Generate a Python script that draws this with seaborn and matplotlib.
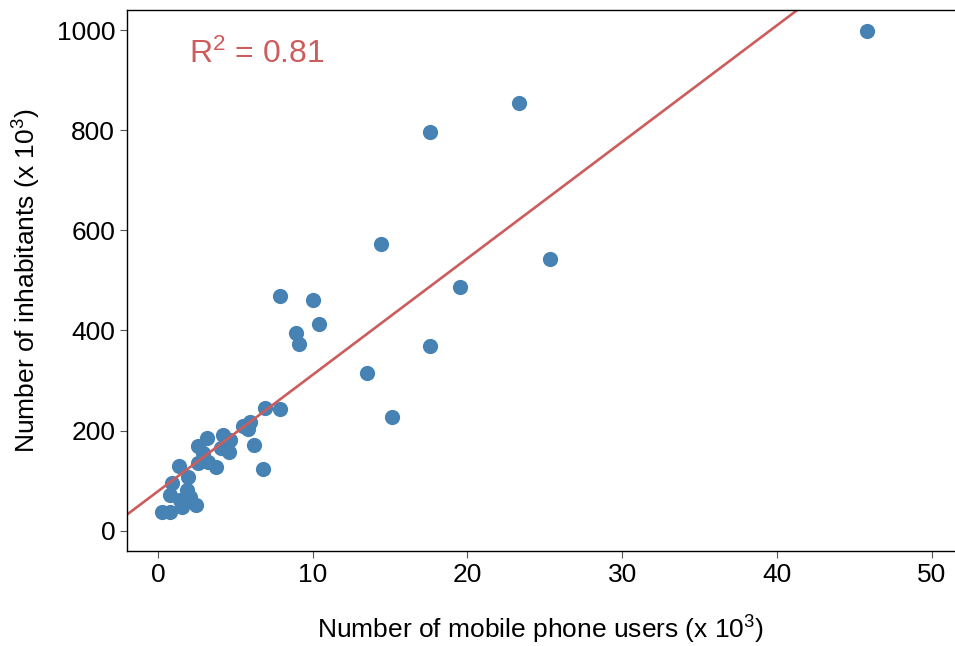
import numpy as np
import pandas as pd
import seaborn as sns
import matplotlib.pyplot as plt

# mobile phone users (x 10^3) vs inhabitants (x 10^3)
usuarios = [45.8, 23.3, 17.6, 14.4, 25.3, 19.5, 17.6, 13.5, 15.1, 7.9,
            10.0, 10.4, 8.9, 9.1, 7.9, 6.9, 6.8, 5.95, 5.5, 5.8,
            4.2, 4.65, 3.15, 2.6, 6.2, 4.1, 4.6, 2.9, 2.6, 3.75,
            3.25, 1.36, 1.96, 0.88, 0.78, 1.85, 2.07, 1.42, 2.45, 1.53,
            0.24, 0.78]
habitantes = [998, 854, 796, 573, 543, 487, 369, 315, 228, 469,
              461, 413, 395, 373, 244, 245, 124, 218, 210, 204,
              192, 182, 186, 170, 172, 165, 158, 155, 136, 127,
              138, 130, 107, 96, 72, 82, 68, 62, 52, 48,
              38, 37]
r2 = 0.81

tabela = pd.DataFrame({'usuarios': usuarios, 'habitantes': habitantes})

sns.set_style('ticks')
plt.rcParams['font.family'] = ['Liberation Sans', 'DejaVu Sans']
plt.rcParams['mathtext.fontset'] = 'custom'
plt.rcParams['mathtext.rm'] = 'Liberation Sans'
plt.rcParams['mathtext.it'] = 'Liberation Sans'
plt.rcParams['text.color'] = 'black'
plt.rcParams['axes.labelcolor'] = 'black'
plt.rcParams['xtick.labelcolor'] = 'black'
plt.rcParams['ytick.labelcolor'] = 'black'
plt.rcParams['axes.edgecolor'] = 'black'

fig = plt.figure(figsize=(9.55, 6.46), dpi=100)
ax = fig.add_axes([0.133, 0.1475, 0.867, 0.837])
ax.set_xlim(-2, 51.5)
ax.set_ylim(-40, 1040)

sns.regplot(data=tabela, x='usuarios', y='habitantes', ax=ax, ci=None, truncate=False,
            scatter_kws={'s': 120, 'color': '#4682B4', 'alpha': 1, 'linewidths': 0},
            line_kws={'color': '#CD5C5C', 'linewidth': 1.9})
ax.set_xlim(-2, 51.5)
ax.set_ylim(-40, 1040)

ax.set_xticks([0, 10, 20, 30, 40, 50])
ax.set_yticks([0, 200, 400, 600, 800, 1000])
ax.tick_params(labelsize=19, length=5, width=0.8, color='#555555', direction='out')
ax.set_xlabel('Number of mobile phone users (x 10$^3$)', fontsize=19, labelpad=20)
ax.set_ylabel('Number of inhabitants (x 10$^3$)', fontsize=19, labelpad=10)

ax.text(2.0, 952, 'R$^2$ = 0.81', color='#CD5C5C', fontsize=23, va='center', ha='left')

ax.spines['right'].set_visible(False)
for s in ['left', 'top', 'bottom']:
    ax.spines[s].set_linewidth(1.0)

fig.savefig('out.png', dpi=100)
